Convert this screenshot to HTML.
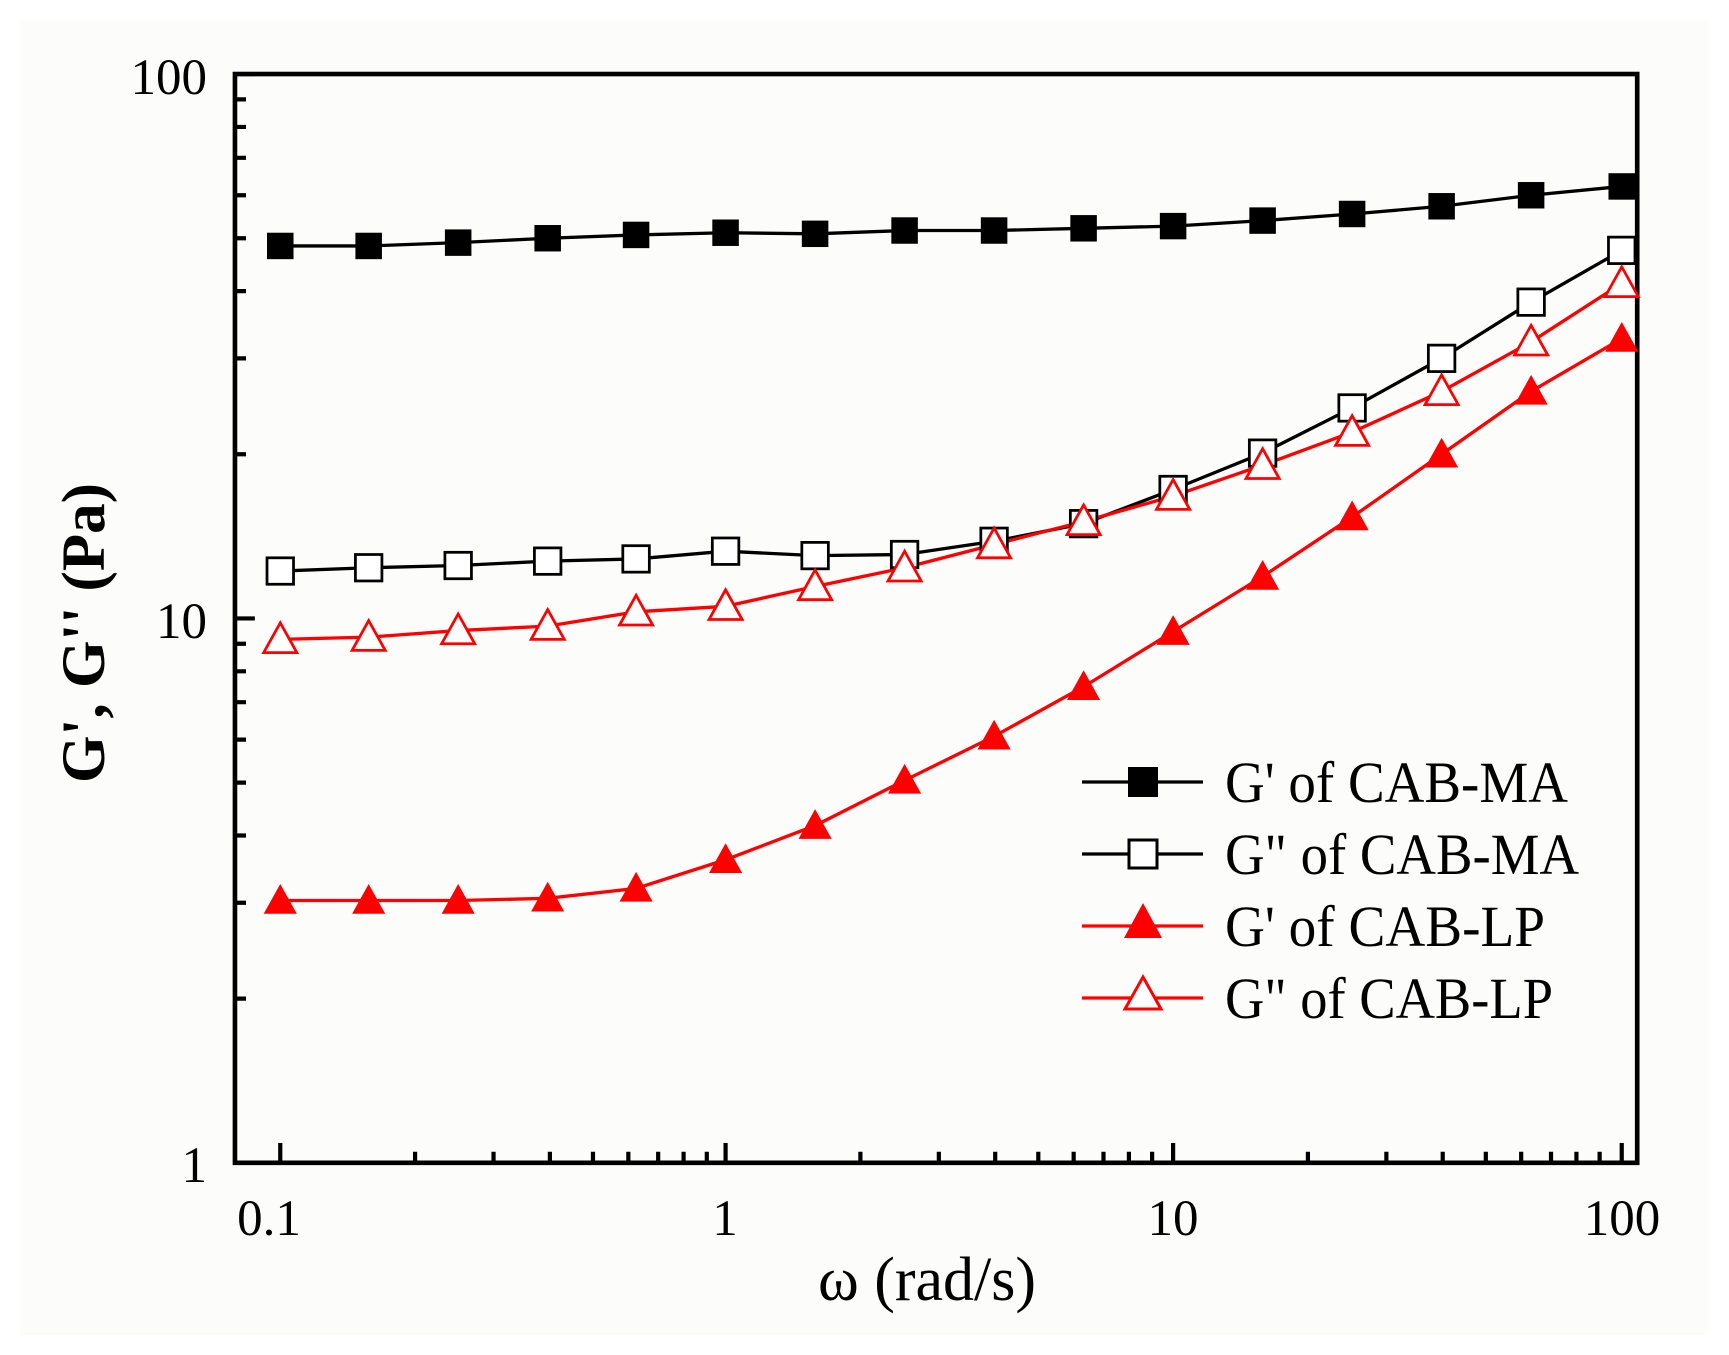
<!DOCTYPE html>
<html><head><meta charset="utf-8"><style>
html,body{margin:0;padding:0;background:#fff;}
svg{display:block;}
text{font-family:"Liberation Serif",serif;fill:#000;}
</style></head><body>
<svg width="1729" height="1355" viewBox="0 0 1729 1355" xmlns="http://www.w3.org/2000/svg">
<rect x="0" y="0" width="1729" height="1355" fill="#fff"/>
<rect x="20" y="20" width="1689" height="1315" fill="#fcfcfb"/>
<g transform="matrix(1.105 0 0 1.102 0.7 0.2)">
  <g stroke="#000" stroke-width="3.8" fill="none">
    <path d="M212 67H230M212 561H230M212 1055H230
      M212 906H222M212 819H222M212 758H222M212 710H222M212 671H222M212 637H222M212 609H222M212 584H222
      M212 412H222M212 325H222M212 264H222M212 216H222M212 177H222M212 143H222M212 115H222M212 90H222"/>
    <path d="M253 1055V1037M656 1055V1037M1061 1055V1037M1467 1055V1037
      M375 1055V1045M446 1055V1045M497 1055V1045M536 1055V1045M568 1055V1045M595 1055V1045M618 1055V1045M639 1055V1045
      M778 1055V1045M849 1055V1045M900 1055V1045M939 1055V1045M971 1055V1045M998 1055V1045M1021 1055V1045M1042 1055V1045
      M1183 1055V1045M1254 1055V1045M1305 1055V1045M1344 1055V1045M1376 1055V1045M1403 1055V1045M1426 1055V1045M1447 1055V1045"/>
    <rect x="212" y="67" width="1269" height="988" stroke-width="4.2"/>
  </g>
  <g fill="none" stroke-width="3">
    <polyline stroke="#000" points="253,223 333,223 414,220 495,216 575,213 656,211 737,212 818,209 899,209 980,207 1061,205 1142,200 1223,194 1304,187 1385,177 1467,169"/>
    <polyline stroke="#000" points="253,518 333,515 414,513 495,509 575,507 656,500 737,504 818,503 899,491 980,475 1061,444 1142,411 1223,370 1304,325 1385,274 1467,227"/>
    <polyline stroke="#f00" points="253,817 333,817 414,817 495,815 575,806 656,780 737,749 818,708 899,668 980,623 1061,573 1142,523 1223,469 1304,412 1385,355 1467,307"/>
    <polyline stroke="#f00" points="253,580 333,578 414,572 495,568 575,555 656,550 737,532 818,515 899,494 980,473 1061,450 1142,422 1223,392 1304,355 1385,310 1467,257"/>
  </g>
  <defs>
    <rect id="sq" x="-12" y="-12" width="24" height="24"/>
    <path id="tri" d="M0 -15 L15 12 L-15 12 Z"/>
  </defs>
  <g fill="#000">
    <use href="#sq" x="253" y="223"/><use href="#sq" x="333" y="223"/><use href="#sq" x="414" y="220"/><use href="#sq" x="495" y="216"/><use href="#sq" x="575" y="213"/><use href="#sq" x="656" y="211"/><use href="#sq" x="737" y="212"/><use href="#sq" x="818" y="209"/><use href="#sq" x="899" y="209"/><use href="#sq" x="980" y="207"/><use href="#sq" x="1061" y="205"/><use href="#sq" x="1142" y="200"/><use href="#sq" x="1223" y="194"/><use href="#sq" x="1304" y="187"/><use href="#sq" x="1385" y="177"/><use href="#sq" x="1467" y="169"/>
  </g>
  <g fill="#fff" stroke="#000" stroke-width="2.5">
    <use href="#sq" x="253" y="518"/><use href="#sq" x="333" y="515"/><use href="#sq" x="414" y="513"/><use href="#sq" x="495" y="509"/><use href="#sq" x="575" y="507"/><use href="#sq" x="656" y="500"/><use href="#sq" x="737" y="504"/><use href="#sq" x="818" y="503"/><use href="#sq" x="899" y="491"/><use href="#sq" x="980" y="475"/><use href="#sq" x="1061" y="444"/><use href="#sq" x="1142" y="411"/><use href="#sq" x="1223" y="370"/><use href="#sq" x="1304" y="325"/><use href="#sq" x="1385" y="274"/><use href="#sq" x="1467" y="227"/>
  </g>
  <g fill="#f00">
    <use href="#tri" x="253" y="817"/><use href="#tri" x="333" y="817"/><use href="#tri" x="414" y="817"/><use href="#tri" x="495" y="815"/><use href="#tri" x="575" y="806"/><use href="#tri" x="656" y="780"/><use href="#tri" x="737" y="749"/><use href="#tri" x="818" y="708"/><use href="#tri" x="899" y="668"/><use href="#tri" x="980" y="623"/><use href="#tri" x="1061" y="573"/><use href="#tri" x="1142" y="523"/><use href="#tri" x="1223" y="469"/><use href="#tri" x="1304" y="412"/><use href="#tri" x="1385" y="355"/><use href="#tri" x="1467" y="307"/>
  </g>
  <g fill="#fff" stroke="#f00" stroke-width="2.5">
    <use href="#tri" x="253" y="580"/><use href="#tri" x="333" y="578"/><use href="#tri" x="414" y="572"/><use href="#tri" x="495" y="568"/><use href="#tri" x="575" y="555"/><use href="#tri" x="656" y="550"/><use href="#tri" x="737" y="532"/><use href="#tri" x="818" y="515"/><use href="#tri" x="899" y="494"/><use href="#tri" x="980" y="473"/><use href="#tri" x="1061" y="450"/><use href="#tri" x="1142" y="422"/><use href="#tri" x="1223" y="392"/><use href="#tri" x="1304" y="355"/><use href="#tri" x="1385" y="310"/><use href="#tri" x="1467" y="257"/>
  </g>
</g>
<g stroke-width="3.2" fill="none">
  <path d="M1082 782H1203" stroke="#000"/>
  <path d="M1082 854H1203" stroke="#000"/>
  <path d="M1082 926H1203" stroke="#f00"/>
  <path d="M1082 998H1203" stroke="#f00"/>
</g>
<rect x="1128" y="767" width="30" height="30" fill="#000"/>
<rect x="1129" y="840" width="28" height="28" fill="#fff" stroke="#000" stroke-width="3"/>
<path d="M1143 903 L1162 938 L1124 938 Z" fill="#f00"/>
<path d="M1143 977 L1161 1009 L1125 1009 Z" fill="#fff" stroke="#f00" stroke-width="3"/>
<g font-size="58">
  <text x="1225" y="802" textLength="343" lengthAdjust="spacingAndGlyphs">G' of CAB-MA</text>
  <text x="1225" y="874" textLength="354" lengthAdjust="spacingAndGlyphs">G" of CAB-MA</text>
  <text x="1225" y="946" textLength="320" lengthAdjust="spacingAndGlyphs">G' of CAB-LP</text>
  <text x="1225" y="1018" textLength="328" lengthAdjust="spacingAndGlyphs">G" of CAB-LP</text>
</g>
<g font-size="51">
  <text x="207" y="94" text-anchor="end">100</text>
  <text x="207" y="638" text-anchor="end">10</text>
  <text x="207" y="1182" text-anchor="end">1</text>
  <text x="269" y="1235" text-anchor="middle">0.1</text>
  <text x="725" y="1235" text-anchor="middle">1</text>
  <text x="1173" y="1235" text-anchor="middle">10</text>
  <text x="1622" y="1235" text-anchor="middle">100</text>
</g>
<text x="927" y="1300" font-size="62" text-anchor="middle">ω (rad/s)</text>
<text transform="translate(104,633) rotate(-90)" font-size="61" font-weight="bold" text-anchor="middle">G', G'' (Pa)</text>
</svg>
</body></html>
